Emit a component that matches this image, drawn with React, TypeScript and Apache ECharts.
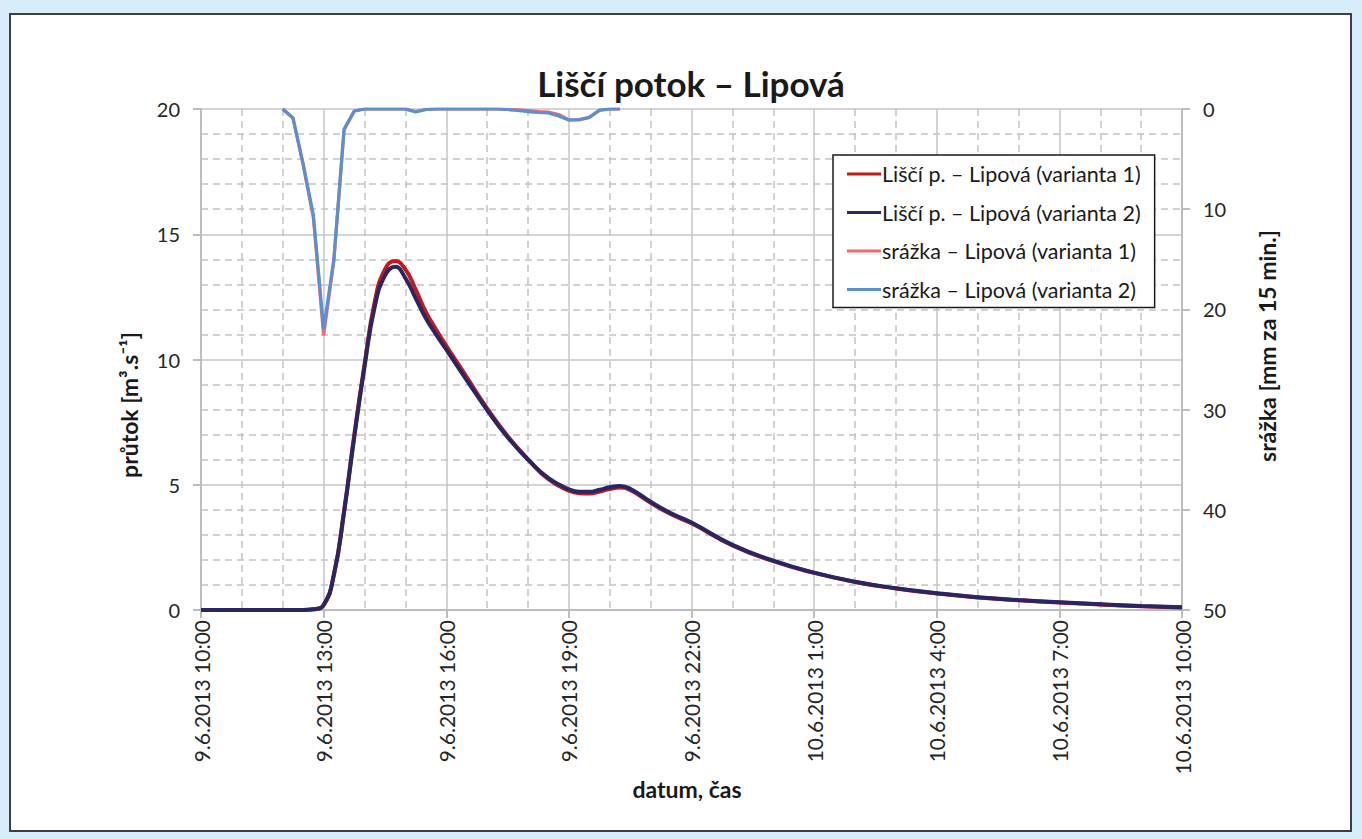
import React, { useEffect, useRef } from "react";
import * as echarts from "echarts";

// ---- data ----
const flowTimes = [
  "9.6.2013 10:00", "9.6.2013 11:00", "9.6.2013 12:00", "9.6.2013 12:30", "9.6.2013 12:45",
  "9.6.2013 13:00", "9.6.2013 13:15", "9.6.2013 13:30", "9.6.2013 13:45", "9.6.2013 14:00",
  "9.6.2013 14:15", "9.6.2013 14:30", "9.6.2013 14:45", "9.6.2013 15:00", "9.6.2013 15:15",
  "9.6.2013 15:30", "9.6.2013 15:45", "9.6.2013 16:00", "9.6.2013 16:30", "9.6.2013 17:00",
  "9.6.2013 17:30", "9.6.2013 18:00", "9.6.2013 18:30", "9.6.2013 19:00", "9.6.2013 19:15",
  "9.6.2013 19:30", "9.6.2013 19:45", "9.6.2013 20:00", "9.6.2013 20:15", "9.6.2013 20:30",
  "9.6.2013 21:00", "9.6.2013 21:30", "9.6.2013 22:00", "9.6.2013 23:00", "10.6.2013 0:00",
  "10.6.2013 1:00", "10.6.2013 2:00", "10.6.2013 3:00", "10.6.2013 4:00", "10.6.2013 5:00",
  "10.6.2013 6:00", "10.6.2013 7:00", "10.6.2013 8:00", "10.6.2013 9:00", "10.6.2013 10:00",
];
const flowVariant1 = [
  0, 0, 0, 0, 0.03, 0.2, 1.4, 3.95, 7.0, 9.8, 12.3, 13.6, 13.93, 13.6, 12.8, 11.9, 11.2, 10.55,
  9.3, 8.05, 6.95, 6.02, 5.22, 4.76, 4.66, 4.65, 4.73, 4.83, 4.89, 4.79, 4.28, 3.82, 3.46, 2.58,
  1.95, 1.48, 1.12, 0.86, 0.66, 0.5, 0.39, 0.3, 0.22, 0.15, 0.1,
];
const flowVariant2 = [
  0, 0, 0, 0, 0.03, 0.2, 1.4, 3.9, 6.9, 9.7, 12.1, 13.35, 13.7, 13.25, 12.45, 11.65, 11.0, 10.4,
  9.18, 7.98, 6.9, 6.0, 5.26, 4.82, 4.72, 4.72, 4.8, 4.9, 4.95, 4.84, 4.32, 3.86, 3.49, 2.6,
  1.97, 1.49, 1.13, 0.87, 0.67, 0.51, 0.4, 0.31, 0.23, 0.16, 0.11,
];
const rainTimes = [
  "9.6.2013 12:00", "9.6.2013 12:15", "9.6.2013 12:30", "9.6.2013 12:45", "9.6.2013 13:00",
  "9.6.2013 13:15", "9.6.2013 13:30", "9.6.2013 13:45", "9.6.2013 14:00", "9.6.2013 14:15",
  "9.6.2013 14:30", "9.6.2013 14:45", "9.6.2013 15:00", "9.6.2013 15:15", "9.6.2013 15:30",
  "9.6.2013 15:45", "9.6.2013 16:00", "9.6.2013 16:15", "9.6.2013 16:30", "9.6.2013 16:45",
  "9.6.2013 17:00", "9.6.2013 17:15", "9.6.2013 17:30", "9.6.2013 17:45", "9.6.2013 18:00",
  "9.6.2013 18:15", "9.6.2013 18:30", "9.6.2013 18:45", "9.6.2013 19:00", "9.6.2013 19:15",
  "9.6.2013 19:30", "9.6.2013 19:45", "9.6.2013 20:00", "9.6.2013 20:15",
];
const rainVariant1 = [
  0, 0.9, 5.6, 10.9, 22.6, 15.2, 2.1, 0.2, 0, 0, 0, 0, 0, 0.25, 0.05, 0, 0, 0, 0, 0, 0, 0, 0.05,
  0.08, 0.15, 0.25, 0.3, 0.55, 1.1, 1.1, 0.85, 0.15, 0, 0,
];
const rainVariant2 = [
  0, 0.9, 5.5, 10.6, 22.0, 15.0, 2.0, 0.2, 0, 0, 0, 0, 0, 0.3, 0.05, 0, 0, 0, 0, 0, 0, 0, 0.05,
  0.15, 0.27, 0.35, 0.4, 0.7, 1.1, 1.05, 0.83, 0.1, 0, 0,
];
const seriesNames = [
  "Liščí p. – Lipová (varianta 1)",
  "Liščí p. – Lipová (varianta 2)",
  "srážka – Lipová (varianta 1)",
  "srážka – Lipová (varianta 2)",
];
const titleText = "Liščí potok – Lipová";
const yLeftName = "průtok [m³.s⁻¹]";
const yRightName = "srážka [mm za 15 min.]";
const xName = "datum, čas";

// hours since 9.6.2013 10:00
const toHours = (s: string) => {
  const [d, t] = s.split(" ");
  const day = parseInt(d.split(".")[0], 10);
  const [h, m] = t.split(":").map(Number);
  return (day - 9) * 24 + h + m / 60 - 10;
};
const fmtHour = (v: number) => {
  const total = 10 + Math.round(v);
  const day = 9 + Math.floor(total / 24);
  const hour = total % 24;
  return `${day}.6.2013 ${hour}:00`;
};
const pair = (times: string[], vals: number[]) => times.map((t, i) => [toHours(t), vals[i]]);

const FONT = "Lato, 'Noto Sans', sans-serif";
const TXT = "#262626";
const AXIS = "#BDBDBD";

export default function App() {
  const ref = useRef<HTMLDivElement>(null);
  useEffect(() => {
    if (!ref.current) return;
    const chart = echarts.init(ref.current, undefined, { renderer: "svg" });
    const axisLine = { show: true, lineStyle: { color: AXIS, width: 2 } };
    const axisTick = { show: true, inside: false, length: 8, lineStyle: { color: AXIS, width: 2 } };
    const majorSplit = { show: true, lineStyle: { color: "#C6C6C6", width: 1.5 } };
    const minorSplit = { show: true, lineStyle: { color: "#C2C2C2", width: 1.5, type: [7, 5] } };
    const nameStyle = {
      fontSize: 23,
      fontWeight: "bold",
      fontFamily: FONT,
      fill: "#1a1a1a",
      align: "center",
      verticalAlign: "middle",
    };
    chart.setOption({
      animation: false,
      textStyle: { fontFamily: FONT },
      grid: { left: 201, right: 180, top: 109, bottom: 229, containLabel: false, outerBoundsMode: "none" },
      legend: {
        data: seriesNames,
        orient: "vertical",
        left: 833,
        top: 155,
        icon: "rect",
        itemWidth: 34,
        itemHeight: 3,
        itemGap: 16.5,
        padding: [8, 14, 7, 14],
        borderColor: "#1a1a1a",
        borderWidth: 1.5,
        borderRadius: 0,
        backgroundColor: "#ffffff",
        textStyle: { fontSize: 21.5, color: "#1a1a1a", fontFamily: FONT, lineHeight: 21, padding: [0, 0, 0, -4] },
      },
      xAxis: {
        type: "value",
        min: 0,
        max: 24,
        interval: 3,
        axisLine: { ...axisLine, onZero: false },
        axisTick,
        minorTick: { show: false, splitNumber: 3 },
        splitLine: majorSplit,
        minorSplitLine: minorSplit,
        axisLabel: {
          rotate: 90,
          fontSize: 21,
          color: TXT,
          fontFamily: FONT,
          margin: 10,
          formatter: (v: number) => fmtHour(v),
        },
      },
      yAxis: [
        {
          type: "value",
          position: "left",
          min: 0,
          max: 20,
          interval: 5,
          axisLine,
          axisTick,
          minorTick: { show: false, splitNumber: 5 },
          splitLine: majorSplit,
          minorSplitLine: minorSplit,
          axisLabel: { fontSize: 20, color: TXT, fontFamily: FONT, margin: 21 },
        },
        {
          type: "value",
          position: "right",
          min: 0,
          max: 50,
          interval: 10,
          inverse: true,
          axisLine,
          axisTick,
          splitLine: { show: false },
          axisLabel: { fontSize: 20, color: TXT, fontFamily: FONT, margin: 21 },
        },
      ],
      series: [
        {
          name: seriesNames[0],
          type: "line",
          yAxisIndex: 0,
          data: pair(flowTimes, flowVariant1),
          smooth: 0.5,
          showSymbol: false,
          symbol: "none",
          color: "#C8161E",
          lineStyle: { color: "#C8161E", width: 4 },
          z: 3,
        },
        {
          name: seriesNames[1],
          type: "line",
          yAxisIndex: 0,
          data: pair(flowTimes, flowVariant2),
          smooth: 0.5,
          showSymbol: false,
          symbol: "none",
          color: "#2A2663",
          lineStyle: { color: "#2A2663", width: 4 },
          z: 4,
        },
        {
          name: seriesNames[2],
          type: "line",
          yAxisIndex: 1,
          data: pair(rainTimes, rainVariant1),
          showSymbol: false,
          symbol: "none",
          color: "#F06A6E",
          lineStyle: { color: "#F06A6E", width: 3.2 },
          z: 5,
        },
        {
          name: seriesNames[3],
          type: "line",
          yAxisIndex: 1,
          data: pair(rainTimes, rainVariant2),
          showSymbol: false,
          symbol: "none",
          color: "#5B8ED2",
          lineStyle: { color: "#5B8ED2", width: 3.2 },
          z: 6,
        },
      ],
      graphic: [
        {
          type: "text",
          x: 691,
          y: 83,
          style: { ...nameStyle, text: titleText, fontSize: 35 },
        },
        {
          type: "text",
          x: 129,
          y: 405,
          rotation: Math.PI / 2,
          style: { ...nameStyle, text: yLeftName },
        },
        {
          type: "text",
          x: 1267,
          y: 346,
          rotation: Math.PI / 2,
          style: { ...nameStyle, text: yRightName },
        },
        {
          type: "text",
          x: 687,
          y: 789,
          style: { ...nameStyle, text: xName },
        },
      ],
    });
    return () => chart.dispose();
  }, []);

  return (
    <div
      style={{
        position: "fixed",
        left: 0,
        top: 0,
        width: 1362,
        height: 839,
        background: "#D7EEFA",
        overflow: "hidden",
      }}
    >
      <div
        style={{
          position: "absolute",
          left: 9,
          top: 13,
          width: 1343,
          height: 819,
          boxSizing: "border-box",
          background: "#ffffff",
          border: "2px solid #3f3f3f",
        }}
      />
      <div ref={ref} style={{ position: "absolute", left: 0, top: 0, width: 1362, height: 839 }} />
    </div>
  );
}
